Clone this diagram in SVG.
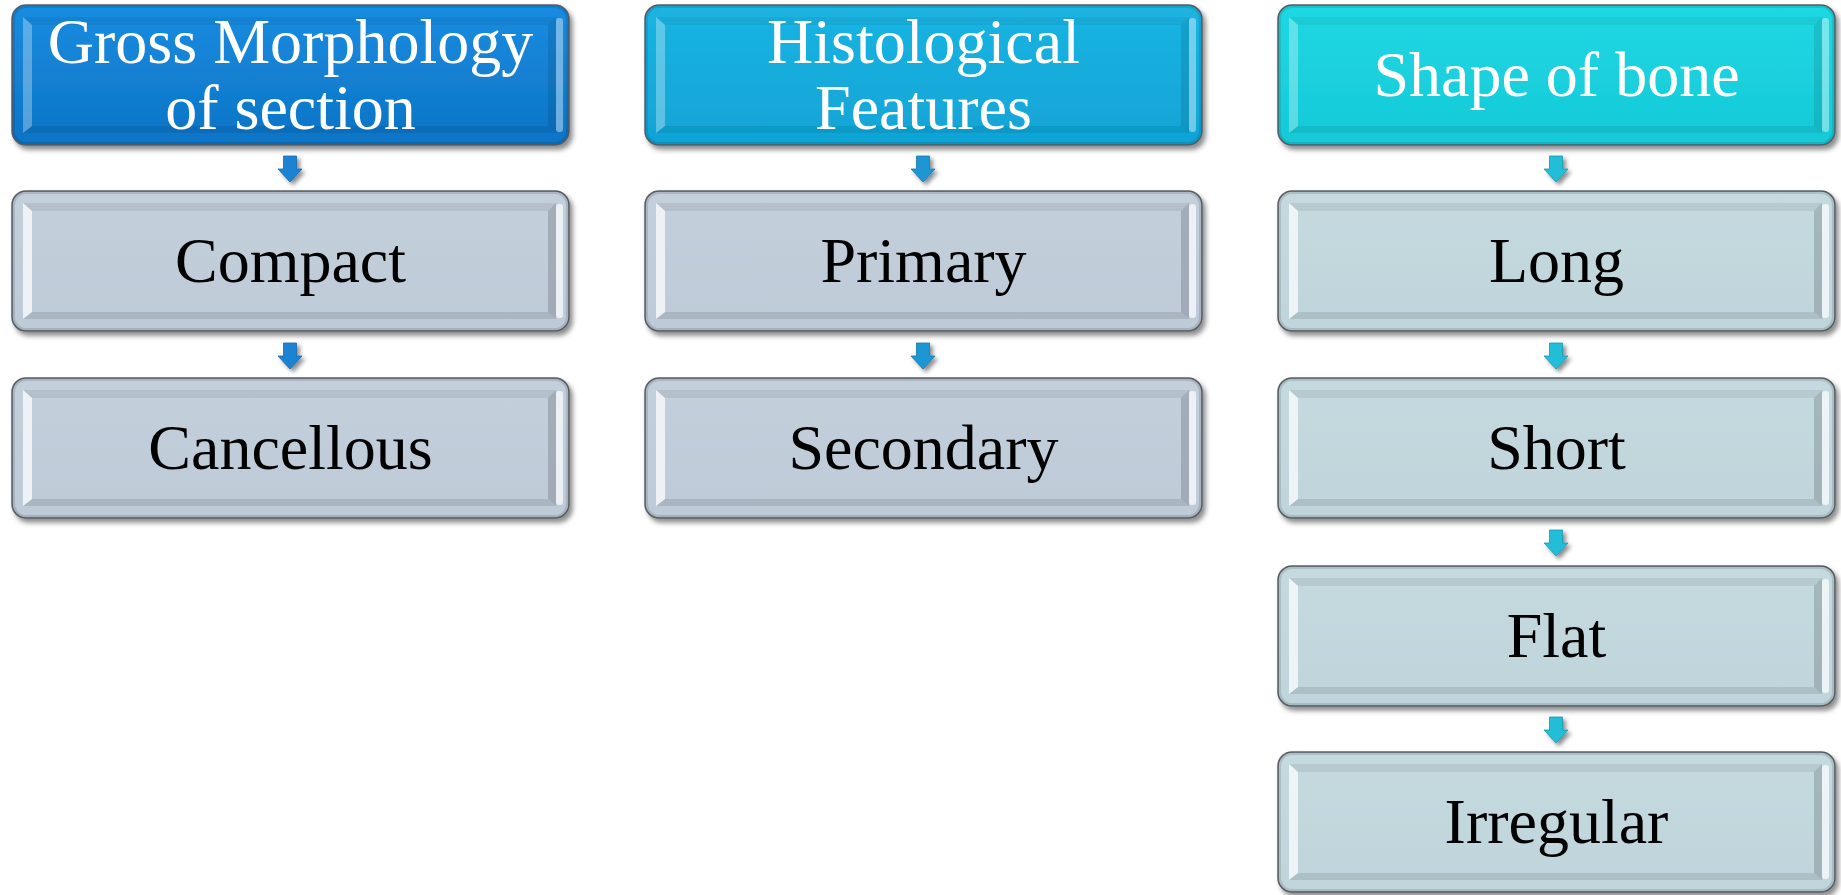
<svg xmlns="http://www.w3.org/2000/svg" xmlns:xlink="http://www.w3.org/1999/xlink" width="1841" height="895" viewBox="0 0 1841 895">
<style>
.box{stroke:#5b6169;stroke-width:1.5;filter:url(#sh)}
.t{font-family:"Liberation Serif","Times New Roman",serif;font-size:64px;text-anchor:middle}
.dark{fill:#000}
.light{fill:#fff}
.body1{fill:url(#gBody1)}
.body3{fill:url(#gBody3)}
.arr{filter:url(#ash);stroke-width:0.8}
</style>
<defs>
<filter id="sh" x="-5%" y="-10%" width="112%" height="130%">
<feDropShadow dx="3" dy="4" stdDeviation="2.5" flood-color="#000" flood-opacity="0.45"/>
</filter>
<filter id="ash" x="-40%" y="-40%" width="200%" height="200%">
<feDropShadow dx="3" dy="3" stdDeviation="2" flood-color="#000" flood-opacity="0.45"/>
</filter>
<linearGradient id="gH1" x1="0" y1="0" x2="0" y2="1"><stop offset="0" stop-color="#178ce0"/><stop offset="1" stop-color="#0e74c6"/></linearGradient>
<linearGradient id="gH2" x1="0" y1="0" x2="0" y2="1"><stop offset="0" stop-color="#1bb4e2"/><stop offset="1" stop-color="#10a4d6"/></linearGradient>
<linearGradient id="gH3" x1="0" y1="0" x2="0" y2="1"><stop offset="0" stop-color="#1fd8e2"/><stop offset="1" stop-color="#16c9d8"/></linearGradient>
<linearGradient id="gBody1" x1="0" y1="0" x2="0" y2="1"><stop offset="0" stop-color="#c4cfdc"/><stop offset="1" stop-color="#bfcad8"/></linearGradient>
<linearGradient id="gBody3" x1="0" y1="0" x2="0" y2="1"><stop offset="0" stop-color="#c4dadf"/><stop offset="1" stop-color="#bfd5db"/></linearGradient>
<g id="bevel">
<polygon points="11,12 544,12 536,20 20,20" fill="#000" fill-opacity="0.07"/>
<polygon points="11,128 20,121 536,121 544,128" fill="#000" fill-opacity="0.1"/>
<polygon points="11,12 20,20 20,121 11,128" fill="#fff" fill-opacity="0.72"/>
<polygon points="544,12 536,20 536,121 544,128" fill="#000" fill-opacity="0.16"/>
<rect x="544" y="13" width="7" height="114" rx="3" fill="#fff" fill-opacity="0.7"/>
<rect x="1.5" y="1.5" width="554" height="137" rx="13" fill="none" stroke="#000" stroke-opacity="0.12" stroke-width="3"/>
</g>
<g id="bevelH">
<polygon points="11,12 544,12 536,20 20,20" fill="#000" fill-opacity="0.05"/>
<polygon points="11,128 20,121 536,121 544,128" fill="#000" fill-opacity="0.08"/>
<polygon points="11,12 20,20 20,121 11,128" fill="#fff" fill-opacity="0.3"/>
<polygon points="544,12 536,20 536,121 544,128" fill="#000" fill-opacity="0.1"/>
<rect x="544" y="13" width="7" height="114" rx="3" fill="#fff" fill-opacity="0.4"/>
<rect x="1.5" y="1.5" width="554" height="137" rx="13" fill="none" stroke="#000" stroke-opacity="0.1" stroke-width="3"/>
</g>
<path id="arrowShape" d="M-6.5,0 H6.5 V13 H12 L0,26 L-12,13 H-6.5 Z"/>
</defs>

<g id="connectors">
<use xlink:href="#arrowShape" x="290" y="156" class="arr" fill="#1f83d3" stroke="#1668b0"/>
<use xlink:href="#arrowShape" x="290" y="343" class="arr" fill="#1f83d3" stroke="#1668b0"/>
<use xlink:href="#arrowShape" x="923" y="156" class="arr" fill="#1f97d4" stroke="#1679b0"/>
<use xlink:href="#arrowShape" x="923" y="343" class="arr" fill="#1f97d4" stroke="#1679b0"/>
<use xlink:href="#arrowShape" x="1556" y="156" class="arr" fill="#22bdd7" stroke="#1a98b0"/>
<use xlink:href="#arrowShape" x="1556" y="343" class="arr" fill="#22bdd7" stroke="#1a98b0"/>
<use xlink:href="#arrowShape" x="1556" y="530" class="arr" fill="#22bdd7" stroke="#1a98b0"/>
<use xlink:href="#arrowShape" x="1556" y="717" class="arr" fill="#22bdd7" stroke="#1a98b0"/>
</g>

<g id="h1">
<rect class="box" x="12" y="5" width="557" height="140" rx="14" fill="url(#gH1)"/>
<use xlink:href="#bevelH" x="12" y="5"/>
<text class="t light" x="290.5" y="63">Gross Morphology</text>
<text class="t light" x="290.5" y="129">of section</text>
</g>
<g id="compact">
<rect class="box body1" x="12" y="191" width="557" height="140" rx="14"/>
<use xlink:href="#bevel" x="12" y="191"/>
<text class="t dark" x="290.5" y="282">Compact</text>
</g>
<g id="cancellous">
<rect class="box body1" x="12" y="378" width="557" height="140" rx="14"/>
<use xlink:href="#bevel" x="12" y="378"/>
<text class="t dark" x="290.5" y="469">Cancellous</text>
</g>

<g id="h2">
<rect class="box" x="645" y="5" width="557" height="140" rx="14" fill="url(#gH2)"/>
<use xlink:href="#bevelH" x="645" y="5"/>
<text class="t light" x="923.5" y="63">Histological</text>
<text class="t light" x="923.5" y="129">Features</text>
</g>
<g id="primary">
<rect class="box body1" x="645" y="191" width="557" height="140" rx="14"/>
<use xlink:href="#bevel" x="645" y="191"/>
<text class="t dark" x="923.5" y="282">Primary</text>
</g>
<g id="secondary">
<rect class="box body1" x="645" y="378" width="557" height="140" rx="14"/>
<use xlink:href="#bevel" x="645" y="378"/>
<text class="t dark" x="923.5" y="469">Secondary</text>
</g>

<g id="h3">
<rect class="box" x="1278" y="5" width="557" height="140" rx="14" fill="url(#gH3)"/>
<use xlink:href="#bevelH" x="1278" y="5"/>
<text class="t light" x="1556.5" y="96">Shape of bone</text>
</g>
<g id="long">
<rect class="box body3" x="1278" y="191" width="557" height="140" rx="14"/>
<use xlink:href="#bevel" x="1278" y="191"/>
<text class="t dark" x="1556.5" y="282">Long</text>
</g>
<g id="short">
<rect class="box body3" x="1278" y="378" width="557" height="140" rx="14"/>
<use xlink:href="#bevel" x="1278" y="378"/>
<text class="t dark" x="1556.5" y="469">Short</text>
</g>
<g id="flat">
<rect class="box body3" x="1278" y="566" width="557" height="140" rx="14"/>
<use xlink:href="#bevel" x="1278" y="566"/>
<text class="t dark" x="1556.5" y="657">Flat</text>
</g>
<g id="irregular">
<rect class="box body3" x="1278" y="752" width="557" height="140" rx="14"/>
<use xlink:href="#bevel" x="1278" y="752"/>
<text class="t dark" x="1556.5" y="843">Irregular</text>
</g>
</svg>
